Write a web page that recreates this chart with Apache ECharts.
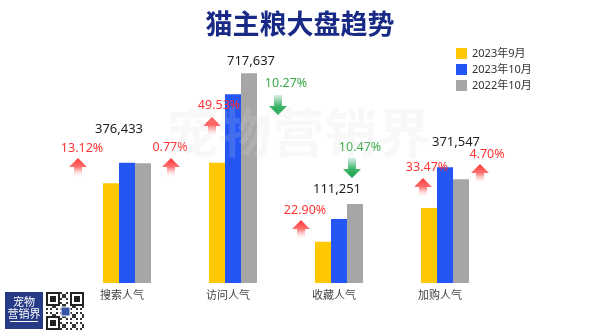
<!DOCTYPE html>
<html>
<head>
<meta charset="utf-8">
<script src="https://cdn.jsdelivr.net/npm/echarts@6/dist/echarts.min.js"></script>
<style>html,body{margin:0;padding:0;background:#fff}#c{width:600px;height:336px}</style>
</head>
<body>
<div id="c"></div>
<script>
// ---- data ----
var categories = ['搜索人气', '访问人气', '收藏人气', '加购人气'];
var seriesNames = ['2023年9月', '2023年10月', '2022年10月'];
var sep2023 = [346800, 418400, 143600, 260900];
var oct2023 = [418400, 656300, 222600, 402400];
var oct2022 = [416300, 729300, 274800, 360700];
var valueLabels = ['376,433', '717,637', '111,251', '371,547'];
var momLabels = ['13.12%', '49.53%', '22.90%', '33.47%'];   // vs 2023年9月
var yoyLabels = ['0.77%', '10.27%', '10.47%', '4.70%'];     // vs 2022年10月
var yoyDirection = ['up', 'down', 'down', 'up'];

// ---- layout / style (not data) ----
var RED = '#ff3535', GREEN_TXT = '#3bab4a', GREEN = '#12a348';
var valueLabelPos = [[119, 129], [251, 61], [337, 189], [456, 142]];
var momPos = [[82, 148, 78, 158], [219, 105, 212, 117], [305, 210, 301, 220], [427, 167, 423, 178]];
var yoyPos = [[170, 147, 171, 158], [286, 83, 278, 95], [360, 147, 352, 158], [487, 154, 480, 164]];

function arrow(cx, top, dir, color) {
  var h = 20, hw = 9, hh = 9, sw = 4;
  var pts, grad;
  if (dir === 'up') {
    pts = [[cx, top], [cx + hw, top + hh], [cx + sw, top + hh], [cx + sw, top + h], [cx - sw, top + h], [cx - sw, top + hh], [cx - hw, top + hh]];
    grad = new echarts.graphic.LinearGradient(0, 0, 0, 1, [
      {offset: 0, color: color}, {offset: 0.45, color: 'rgba(255,53,53,0.7)'}, {offset: 1, color: 'rgba(255,255,255,0)'}]);
  } else {
    var b = top + h;
    pts = [[cx, b], [cx + hw, b - hh], [cx + sw, b - hh], [cx + sw, top], [cx - sw, top], [cx - sw, b - hh], [cx - hw, b - hh]];
    grad = new echarts.graphic.LinearGradient(0, 0, 0, 1, [
      {offset: 0, color: 'rgba(18,163,72,0.15)'}, {offset: 0.55, color: 'rgba(18,163,72,0.8)'}, {offset: 1, color: color}]);
  }
  return {type: 'polygon', shape: {points: pts}, style: {fill: grad}, z: 20, silent: true};
}

function txt(x, y, text, color, size) {
  return {type: 'text', x: x, y: y, z: 20, silent: true,
    style: {text: text, fill: color, font: size + 'px "Noto Sans", "Noto Sans CJK SC", sans-serif', textAlign: 'center', textVerticalAlign: 'middle'}};
}

var graphics = [];
// watermark
graphics.push({type: 'text', x: 298, y: 133, z: 30, silent: true,
  style: {text: '宠物营销界', fill: 'rgba(215,215,215,0.18)', font: 'bold 53px "Noto Sans CJK SC", sans-serif', textAlign: 'center', textVerticalAlign: 'middle'}});
for (var i = 0; i < categories.length; i++) {
  graphics.push(txt(valueLabelPos[i][0], valueLabelPos[i][1], valueLabels[i], '#222', 13));
  graphics.push(txt(momPos[i][0], momPos[i][1], momLabels[i], RED, 12.5));
  graphics.push(arrow(momPos[i][2], momPos[i][3], 'up', RED));
  var up = yoyDirection[i] === 'up';
  graphics.push(txt(yoyPos[i][0], yoyPos[i][1], yoyLabels[i], up ? RED : GREEN_TXT, 12.5));
  graphics.push(arrow(yoyPos[i][2], yoyPos[i][3], yoyDirection[i], up ? RED : GREEN));
}
// logo block
graphics.push({type: 'rect', shape: {x: 5, y: 292, width: 38, height: 37}, style: {fill: '#263b85'}, silent: true});
graphics.push({type: 'text', x: 24, y: 302, style: {text: '宠物', fill: '#fff', font: '11px "Noto Sans CJK SC", sans-serif', textAlign: 'center', textVerticalAlign: 'middle'}, silent: true});
graphics.push({type: 'text', x: 24, y: 314, style: {text: '营销界', fill: '#fff', font: '11px "Noto Sans CJK SC", sans-serif', textAlign: 'center', textVerticalAlign: 'middle'}, silent: true});
graphics.push({type: 'rect', shape: {x: 10, y: 321, width: 28, height: 1}, style: {fill: '#fff'}, silent: true});
// qr-like pattern
(function () {
  var x0 = 46, y0 = 292, n = 19, s = 2;
  graphics.push({type: 'rect', shape: {x: x0, y: y0, width: n * s, height: n * s}, style: {fill: '#fff'}, silent: true});
  for (var r = 0; r < n; r++) for (var c = 0; c < n; c++) {
    var inFinder = (r < 7 && c < 7) || (r < 7 && c >= n - 7) || (r >= n - 7 && c < 7);
    if (inFinder) continue;
    var v = ((r * 7 + c * 13 + r * c * 3) % 5);
    if (v < 2) graphics.push({type: 'rect', shape: {x: x0 + c * s, y: y0 + r * s, width: s, height: s}, style: {fill: '#333'}, silent: true});
  }
  [[0, 0], [0, n - 7], [n - 7, 0]].forEach(function (p) {
    var fx = x0 + p[1] * s, fy = y0 + p[0] * s;
    graphics.push({type: 'rect', shape: {x: fx, y: fy, width: 7 * s, height: 7 * s}, style: {fill: '#222'}, silent: true});
    graphics.push({type: 'rect', shape: {x: fx + s, y: fy + s, width: 5 * s, height: 5 * s}, style: {fill: '#fff'}, silent: true});
    graphics.push({type: 'rect', shape: {x: fx + 2 * s, y: fy + 2 * s, width: 3 * s, height: 3 * s}, style: {fill: '#222'}, silent: true});
  });
  graphics.push({type: 'rect', shape: {x: x0 + 15, y: y0 + 15, width: 9, height: 9}, style: {fill: '#3856a8', stroke: '#fff', lineWidth: 1}, silent: true});
})();

var colors = ['#ffc800', '#2356f4', '#a6a6a6'];
var seriesData = [sep2023, oct2023, oct2022];

var chart = echarts.init(document.getElementById('c'), null, {renderer: 'canvas'});
chart.setOption({
  animation: false,
  backgroundColor: '#fff',
  title: {text: '猫主粮大盘趋势', left: 'center', top: 5,
    textStyle: {fontSize: 27, fontWeight: 'bold', color: '#182a86', fontFamily: '"Noto Sans CJK SC", sans-serif'}},
  legend: {orient: 'vertical', left: 451, top: 43, itemWidth: 11, itemHeight: 11, itemGap: 5, icon: 'rect',
    textStyle: {fontSize: 11, color: '#333', fontFamily: '"Noto Sans", "Noto Sans CJK SC", sans-serif'},
    data: seriesNames},
  grid: {left: 74, right: 102, top: 53, bottom: 53},
  xAxis: {type: 'category', data: categories,
    axisLine: {show: false}, axisTick: {show: false},
    axisLabel: {fontSize: 11, color: '#444', margin: 6, padding: [0, 10, 0, 0], fontFamily: '"Noto Sans CJK SC", sans-serif'}},
  yAxis: {type: 'value', min: 0, max: 800000, show: false, splitLine: {show: false}},
  series: seriesNames.map(function (name, k) {
    return {name: name, type: 'bar', data: seriesData[k], barWidth: 16, barGap: '0%',
      itemStyle: {color: colors[k]}};
  }),
  graphic: graphics
});
</script>
</body>
</html>
